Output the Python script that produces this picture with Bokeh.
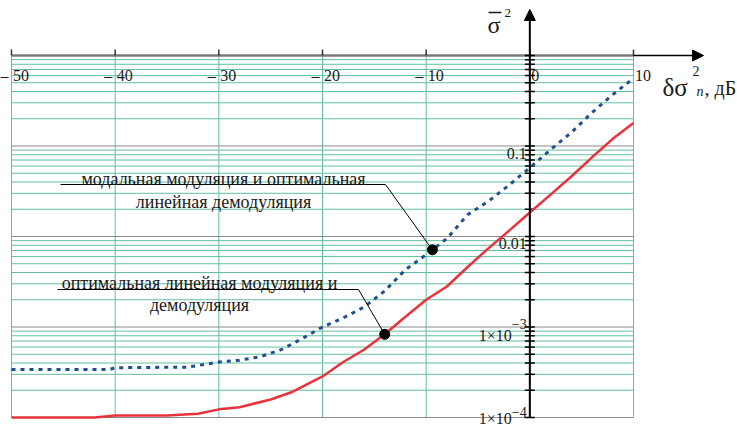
import numpy as np
from bokeh.plotting import figure
from bokeh.models import Range1d, Arrow, NormalHead
from bokeh.core.properties import value
from bokeh.embed import file_html
from bokeh.resources import INLINE

# ---------------- data ----------------
x_ticks = [-50, -40, -30, -20, -10, 0, 10]
y_decades = [1e-4, 1e-3, 1e-2, 1e-1, 1.0]
y_label_main = ["1×10", "1×10", "0.01", "0.1"]
y_label_sup = ["−4", "−3", "", ""]

blue_x = [-50, -40.5, -40, -33, -30, -28, -26, -24, -22, -20, -18, -16, -14, -12,
          -10, -8, -6, -4, -2, 0, 2, 4, 6, 8, 10]
blue_y = [3.4e-4, 3.4e-4, 3.55e-4, 3.6e-4, 4.1e-4, 4.3e-4, 4.7e-4, 5.6e-4, 7.4e-4,
          1.0e-3, 1.26e-3, 1.66e-3, 2.5e-3, 4.3e-3, 6.3e-3, 9.5e-3, 1.74e-2, 2.45e-2,
          3.7e-2, 5.75e-2, 9.1e-2, 0.141, 0.234, 0.37, 0.56]

red_x = [-50, -42, -40, -35, -32, -30, -28, -25, -23, -20, -18, -16, -14, -12,
         -10, -8, -6, -4, -2, 0, 2, 4, 6, 8, 10]
red_y = [1.0e-4, 1.0e-4, 1.05e-4, 1.05e-4, 1.1e-4, 1.23e-4, 1.3e-4, 1.58e-4, 1.9e-4,
         2.84e-4, 4.1e-4, 5.6e-4, 8.3e-4, 1.3e-3, 2.0e-3, 2.8e-3, 4.6e-3, 7.4e-3,
         1.16e-2, 1.84e-2, 2.9e-2, 4.6e-2, 7.5e-2, 0.12, 0.18]

ann_blue = ["модальная модуляция и оптимальная", "линейная демодуляция"]
ann_red = ["оптимальная линейная модуляция и", "демодуляция"]
marker_x = [-9.4, -14.0]

# ---------------- layout ----------------
W, H = 737, 426
X_PX = 622.0 / 60.0          # pixels per dB
DEC_PX = 90.5                # pixels per decade
XR0 = -50 - 11.0 / X_PX
XR1 = XR0 + W / X_PX
YT = -4 + 417.0 / DEC_PX
YB = YT - H / DEC_PX


def dx(px):
    return XR0 + px / X_PX


def dy(py):
    return 10 ** (YT - py / DEC_PX)


FONT = value("Liberation Serif")
GREEN = "#62bfa0"
GRAY = "#8a8a8a"
TXT = "#1a1a1a"

p = figure(width=W, height=H, x_range=Range1d(XR0, XR1),
           y_range=Range1d(10 ** YB, 10 ** YT), y_axis_type="log",
           x_axis_location=None, y_axis_location=None,
           toolbar_location=None, output_backend="svg", min_border=0,
           outline_line_color=None)
p.grid.visible = False

# grid
minor_y = [k * d for d in y_decades[:-1] for k in range(2, 10)]
p.segment(x0=[x_ticks[0]] * len(minor_y), x1=[x_ticks[-1]] * len(minor_y),
          y0=minor_y, y1=minor_y, line_color=GREEN, line_width=1)
p.segment(x0=x_ticks, x1=x_ticks, y0=[y_decades[0]] * len(x_ticks),
          y1=[y_decades[-1]] * len(x_ticks), line_color=GREEN, line_width=1)
dec = y_decades[:-1]
p.segment(x0=[x_ticks[0]] * len(dec), x1=[x_ticks[-1]] * len(dec),
          y0=dec, y1=dec, line_color=GRAY, line_width=1.2)

# x axis (top)
top = y_decades[-1]
p.segment(x0=[x_ticks[0]], x1=[x_ticks[-1]], y0=[top], y1=[top],
          line_color="#7a7a7a", line_width=2.5)
p.add_layout(Arrow(end=NormalHead(size=11, fill_color="black", line_color="black"),
                   x_start=x_ticks[-1], y_start=top, x_end=dx(703), y_end=top,
                   line_color="black", line_width=1.5))
tick_up = top * 10 ** (6 / DEC_PX)
p.segment(x0=x_ticks, x1=x_ticks, y0=[top] * len(x_ticks), y1=[tick_up] * len(x_ticks),
          line_color="#333333", line_width=1.5)

# x tick labels
lab_y = top * 10 ** (-20 / DEC_PX)
neg = [t for t in x_ticks if t < 0]
p.text(x=[t - 3 / X_PX for t in neg], y=[lab_y] * len(neg), text=["–"] * len(neg),
       text_font=FONT, text_font_size="16px", text_align="right",
       text_baseline="alphabetic", text_color=TXT)
p.text(x=[t + 1.5 / X_PX for t in x_ticks], y=[lab_y] * len(x_ticks),
       text=[str(abs(t)) for t in x_ticks], text_font=FONT, text_font_size="16px",
       text_align="left", text_baseline="alphabetic", text_color=TXT)

# y axis
p.add_layout(Arrow(end=NormalHead(size=11, fill_color="black", line_color="black"),
                   x_start=0, y_start=y_decades[0], x_end=0, y_end=dy(9),
                   line_color="black", line_width=2))
all_y = [k * d for d in y_decades[:-1] for k in range(1, 10)] + [top]
p.segment(x0=[-5 / X_PX] * len(all_y), x1=[5 / X_PX] * len(all_y), y0=all_y, y1=all_y,
          line_color="black", line_width=1.5)

# y tick labels
for i, (d, m, s) in enumerate(zip(y_decades[:-1], y_label_main, y_label_sup)):
    if s:
        down = 1 if i == 0 else 8
        up = 6 if i == 0 else 3
        p.text(x=[-18 / X_PX], y=[d * 10 ** (-down / DEC_PX)], text=[m], text_font=FONT,
               text_font_size="16px", text_align="right", text_baseline="alphabetic",
               text_color=TXT)
        p.text(x=[-18 / X_PX], y=[d * 10 ** (up / DEC_PX)], text=[s], text_font=FONT,
               text_font_size="14px", text_align="left", text_baseline="alphabetic",
               text_color=TXT)
    else:
        p.text(x=[-3 / X_PX], y=[d * 10 ** (-7 / DEC_PX)], text=[m], text_font=FONT,
               text_font_size="16px", text_align="right", text_baseline="alphabetic",
               text_color=TXT)

# curves
p.line(blue_x, blue_y, line_color="#1f4f8f", line_width=3, line_dash="4 5")
p.line(red_x, red_y, line_color="#e8323c", line_width=2.5)


def interp_log(xq, xs, ys):
    return 10 ** np.interp(xq, xs, np.log10(ys))


dot_y = [interp_log(marker_x[0], blue_x, blue_y), interp_log(marker_x[1], red_x, red_y)]

# annotations
p.line([dx(60), dx(385), marker_x[0]], [dy(184), dy(184), dot_y[0]],
       line_color="black", line_width=1)
p.line([dx(57), dx(358), marker_x[1]], [dy(289), dy(289), dot_y[1]],
       line_color="black", line_width=1)
p.scatter(marker_x, dot_y, size=10, fill_color="black", line_color="black")

p.text(x=[dx(223)] * 2, y=[dy(178), dy(201)], text=ann_blue, text_font=FONT,
       text_font_size="18px", text_align="center", text_baseline="alphabetic",
       text_color=TXT)
p.text(x=[dx(199)] * 2, y=[dy(282), dy(304)], text=ann_red, text_font=FONT,
       text_font_size="18px", text_align="center", text_baseline="alphabetic",
       text_color=TXT)

# axis titles
p.text(x=[dx(487)], y=[dy(24)], text=["σ"], text_font=FONT, text_font_size="24px",
       text_align="left", text_baseline="alphabetic", text_color=TXT)
p.segment(x0=[dx(488)], x1=[dx(501)], y0=[dy(12)], y1=[dy(12)], line_color=TXT,
          line_width=1.5)
p.text(x=[dx(504)], y=[dy(12)], text=["2"], text_font=FONT, text_font_size="13px",
       text_align="left", text_baseline="alphabetic", text_color=TXT)

p.text(x=[dx(662)], y=[dy(87)], text=["δσ"], text_font=FONT, text_font_size="25px",
       text_align="left", text_baseline="alphabetic", text_color=TXT)
p.text(x=[dx(692)], y=[dy(70)], text=["2"], text_font=FONT, text_font_size="14px",
       text_align="left", text_baseline="alphabetic", text_color=TXT)
p.text(x=[dx(696)], y=[dy(91)], text=["n"], text_font=FONT, text_font_size="14px",
       text_font_style="italic", text_align="left", text_baseline="alphabetic",
       text_color=TXT)
p.text(x=[dx(704)], y=[dy(87)], text=[", дБ"], text_font=FONT, text_font_size="20px",
       text_align="left", text_baseline="alphabetic", text_color=TXT)

open("out.html", "w").write(file_html(p, INLINE))
